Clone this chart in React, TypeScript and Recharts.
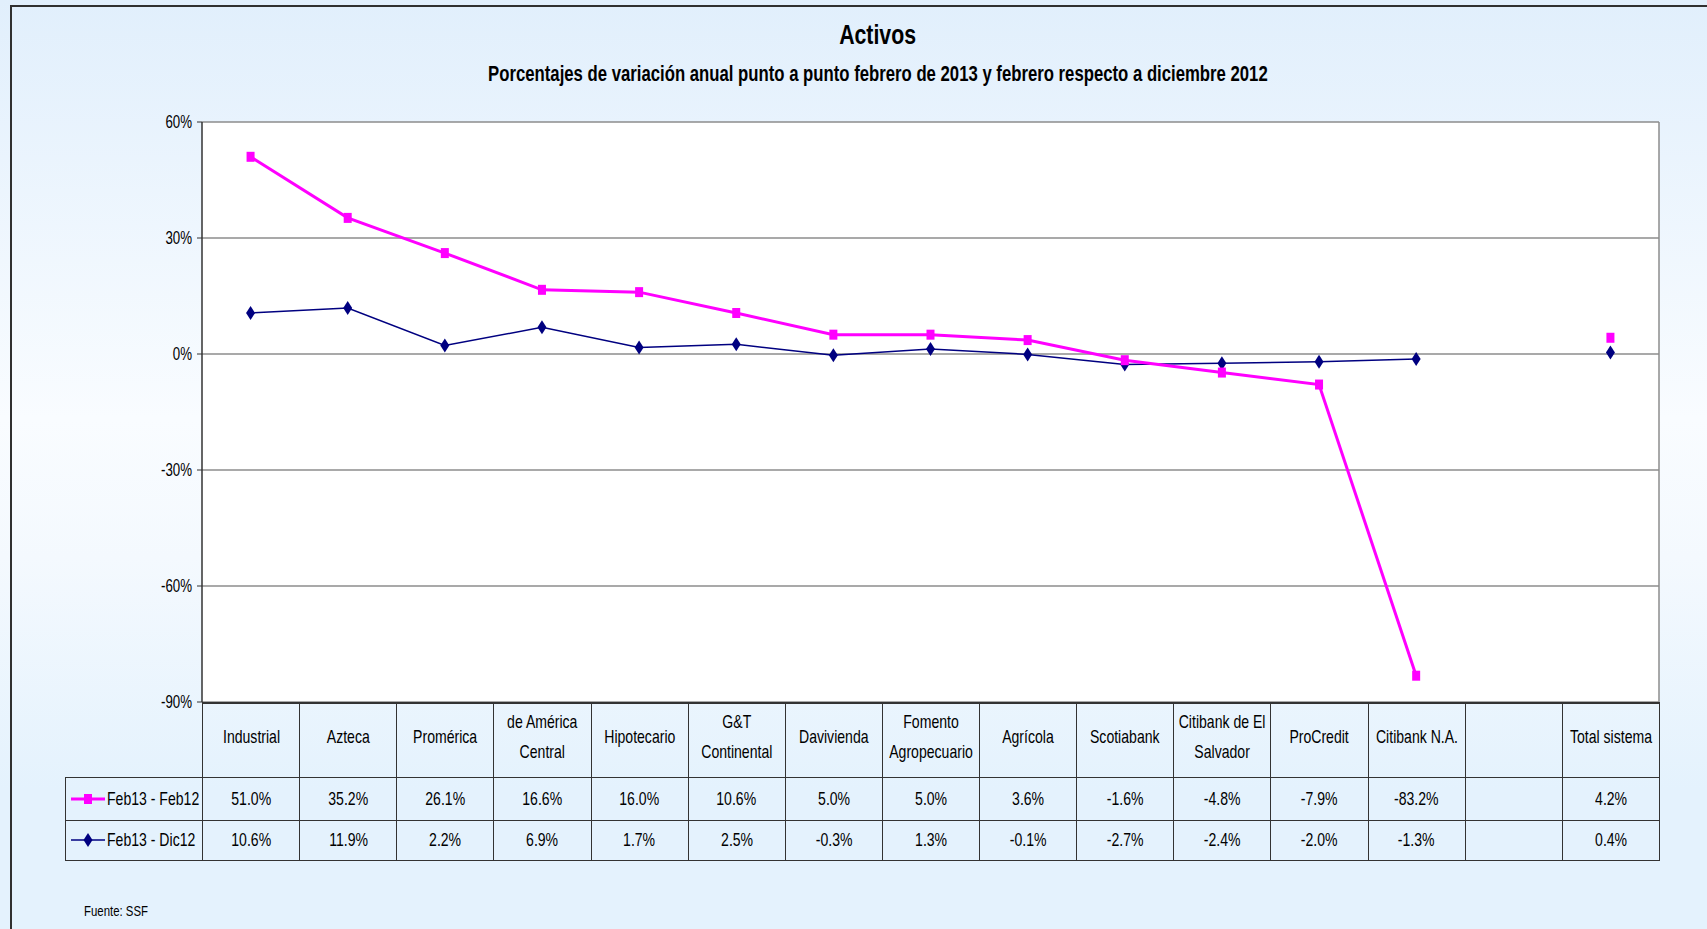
import { LineChart, Line, XAxis, YAxis, CartesianGrid, ReferenceLine } from 'recharts';

const categories = [
  'Industrial', 'Azteca', 'Promérica', 'de América\nCentral', 'Hipotecario',
  'G&T\nContinental', 'Davivienda', 'Fomento\nAgropecuario', 'Agrícola', 'Scotiabank',
  'Citibank de El\nSalvador', 'ProCredit', 'Citibank N.A.', '', 'Total sistema',
];
const feb13Feb12 = [51.0, 35.2, 26.1, 16.6, 16.0, 10.6, 5.0, 5.0, 3.6, -1.6, -4.8, -7.9, -83.2, null, 4.2];
const feb13Dic12 = [10.6, 11.9, 2.2, 6.9, 1.7, 2.5, -0.3, 1.3, -0.1, -2.7, -2.4, -2.0, -1.3, null, 0.4];
const yTicks = [-90, -60, -30, 0, 30, 60];
const seriesNames = ['Feb13 - Feb12', 'Feb13 - Dic12'];

const data = categories.map((c, i) => ({ idx: i, name: c, a: feb13Feb12[i], b: feb13Dic12[i] }));

const W = 1707;
const H = 929;
const PLOT_L = 202;
const PLOT_R = 1659;
const PLOT_T = 122;
const PLOT_B = 702;
const COL_W = (PLOT_R - PLOT_L) / categories.length;
const LEG_L = 65;
const FONT = '"Liberation Sans", Arial, sans-serif';
const SQ = 0.76; // squeeze factor, imitates Arial Narrow
const PINK = '#ff00ff';
const NAVY = '#000080';
const GRID = '#333333';

const fmt = (v: number | null) => (v == null ? '' : `${v.toFixed(1)}%`);

function Narrow({ children, origin = 'center' }: { children: React.ReactNode; origin?: string }) {
  return (
    <span
      style={{
        display: 'inline-block', flexShrink: 0, textAlign: 'center',
        transform: `scaleX(${SQ})`, transformOrigin: origin, whiteSpace: 'pre',
      }}
    >
      {children}
    </span>
  );
}

// centres the squeezed text in its cell even when the unsqueezed text is wider
function Centered({ children }: { children: React.ReactNode }) {
  return (
    <div style={{ display: 'flex', justifyContent: 'center', width: '100%' }}>
      <Narrow>{children}</Narrow>
    </div>
  );
}

function YTick(props: any) {
  const { x, y, payload } = props;
  return (
    <g transform={`translate(${x - 3},${y}) scale(${SQ},1)`}>
      <text x={0} y={0} dy="0.36em" textAnchor="end" fontSize={17.5} fontFamily={FONT} fill="#000">
        {`${payload.value}%`}
      </text>
    </g>
  );
}

function SquareDot(props: any) {
  const { cx, cy, index } = props;
  if (cx == null || cy == null) return <g key={`s${index}`} />;
  return <rect key={`s${index}`} x={cx - 4} y={cy - 5} width={8} height={10} fill={PINK} />;
}

function DiamondDot(props: any) {
  const { cx, cy, index } = props;
  if (cx == null || cy == null) return <g key={`d${index}`} />;
  return (
    <polygon
      key={`d${index}`}
      points={`${cx},${cy - 7} ${cx + 4.5},${cy} ${cx},${cy + 7} ${cx - 4.5},${cy}`}
      fill={NAVY}
    />
  );
}

function Swatch({ kind }: { kind: 'a' | 'b' }) {
  return (
    <svg width={36} height={16} style={{ position: 'absolute', left: 4, top: '50%', marginTop: -8 }}>
      {kind === 'a' ? (
        <>
          <line x1={1} y1={8} x2={35} y2={8} stroke={PINK} strokeWidth={3} />
          <rect x={14} y={3} width={8} height={10} fill={PINK} />
        </>
      ) : (
        <>
          <line x1={1} y1={8} x2={35} y2={8} stroke={NAVY} strokeWidth={1.5} />
          <polygon points="18,1 22.5,8 18,15 13.5,8" fill={NAVY} />
        </>
      )}
    </svg>
  );
}

const cell: React.CSSProperties = {
  border: `1px solid ${GRID}`,
  textAlign: 'center',
  padding: 0,
  fontSize: 18.5,
  color: '#000',
  overflow: 'hidden',
  whiteSpace: 'nowrap',
};

const legCell: React.CSSProperties = { ...cell, textAlign: 'left', position: 'relative', paddingLeft: 41 };

export default function App() {
  return (
    <div
      style={{
        position: 'absolute', left: 0, top: 0, width: W, height: H, overflow: 'hidden',
        background: 'linear-gradient(to bottom, #e1effc 0%, #f9fcff 45%, #f4f9fe 60%, #e4f2fd 85%, #e4f2fd 100%)',
        fontFamily: FONT,
      }}
    >
      <div
        style={{
          position: 'absolute', left: 10, top: 5, width: W, height: H,
          borderLeft: '2px solid #303030', borderTop: '2px solid #303030',
        }}
      />
      <div style={{ position: 'absolute', left: 0, width: 1755, top: 19, textAlign: 'center', fontWeight: 'bold', fontSize: 28 }}>
        <Narrow>Activos</Narrow>
      </div>
      <div style={{ position: 'absolute', left: 0, width: 1755, top: 61, textAlign: 'center', fontWeight: 'bold', fontSize: 22 }}>
        <Narrow>Porcentajes de variación anual punto a punto febrero de 2013 y febrero respecto a diciembre 2012</Narrow>
      </div>

      <div style={{ position: 'absolute', left: 0, top: 0 }}>
        <LineChart
          width={W}
          height={H}
          data={data}
          margin={{ top: PLOT_T, left: PLOT_L - 60, right: W - PLOT_R, bottom: H - PLOT_B }}
        >
          <CartesianGrid vertical={false} stroke="#8c8c8c" strokeWidth={1.5} fill="#ffffff" />
          <XAxis dataKey="idx" type="number" domain={[-0.5, categories.length - 0.5]} hide />
          <YAxis
            width={60}
            domain={[-90, 60]}
            ticks={yTicks}
            interval={0}
            tick={<YTick />}
            axisLine={{ stroke: GRID, strokeWidth: 1.5 }}
            tickLine={{ stroke: GRID }}
            tickSize={5}
          />
          <ReferenceLine x={categories.length - 0.5} stroke="#8c8c8c" strokeWidth={1.5} />
          <Line
            dataKey="b"
            stroke={NAVY}
            strokeWidth={1.5}
            dot={DiamondDot}
            activeDot={false}
            isAnimationActive={false}
          />
          <Line
            dataKey="a"
            stroke={PINK}
            strokeWidth={3}
            dot={SquareDot}
            activeDot={false}
            isAnimationActive={false}
          />
        </LineChart>
      </div>

      <table
        style={{
          position: 'absolute', left: LEG_L, top: PLOT_B, borderCollapse: 'collapse',
          tableLayout: 'fixed', width: PLOT_R - LEG_L, fontFamily: FONT,
        }}
      >
        <colgroup>
          <col style={{ width: PLOT_L - LEG_L }} />
          {categories.map((c, i) => (
            <col key={i} style={{ width: COL_W }} />
          ))}
        </colgroup>
        <tbody>
          <tr style={{ height: 74 }}>
            <td style={{ border: 'none', borderRight: `1px solid ${GRID}` }} />
            {categories.map((c, i) => (
              <td key={i} style={{ ...cell, borderTop: `2px solid ${GRID}`, lineHeight: '30px', paddingBottom: 6 }}>
                <Centered>{c}</Centered>
              </td>
            ))}
          </tr>
          <tr style={{ height: 43 }}>
            <td style={legCell}>
              <Swatch kind="a" />
              <Narrow origin="left">{seriesNames[0]}</Narrow>
            </td>
            {feb13Feb12.map((v, i) => (
              <td key={i} style={cell}><Centered>{fmt(v)}</Centered></td>
            ))}
          </tr>
          <tr style={{ height: 40 }}>
            <td style={legCell}>
              <Swatch kind="b" />
              <Narrow origin="left">{seriesNames[1]}</Narrow>
            </td>
            {feb13Dic12.map((v, i) => (
              <td key={i} style={cell}><Centered>{fmt(v)}</Centered></td>
            ))}
          </tr>
        </tbody>
      </table>

      <div style={{ position: 'absolute', left: 84, top: 902, fontSize: 15 }}>
        <Narrow origin="left">Fuente: SSF</Narrow>
      </div>
    </div>
  );
}
